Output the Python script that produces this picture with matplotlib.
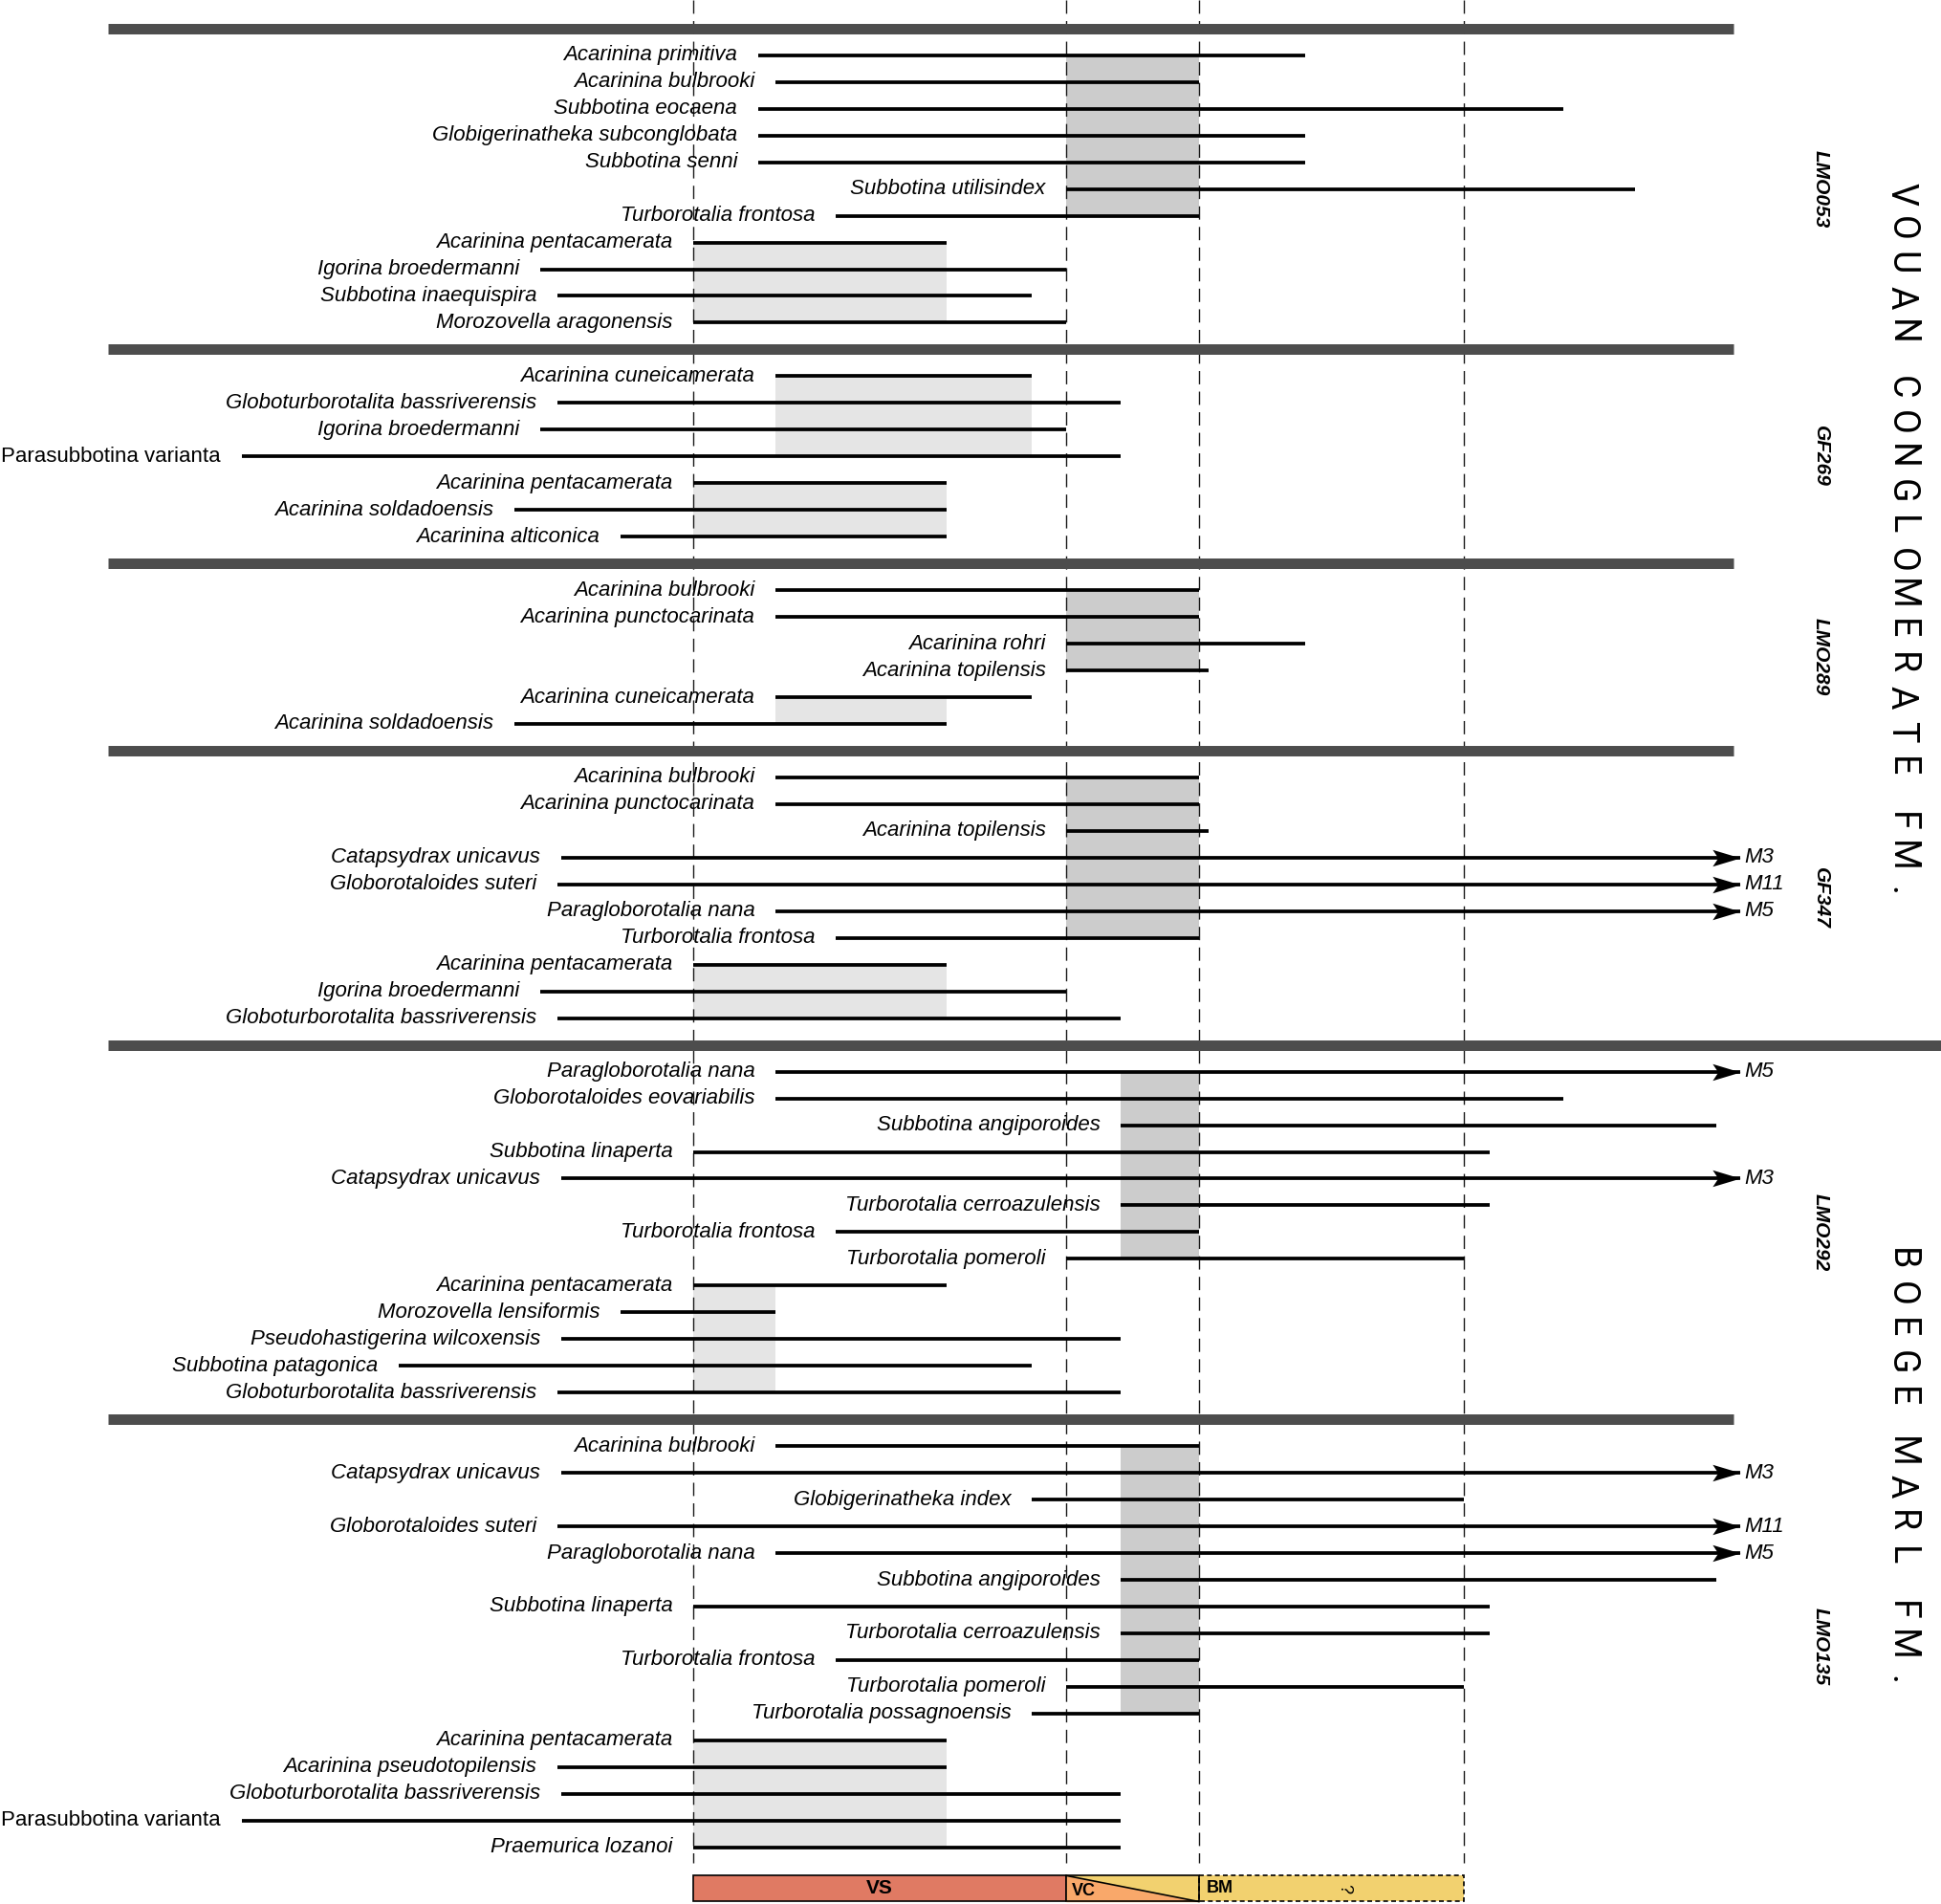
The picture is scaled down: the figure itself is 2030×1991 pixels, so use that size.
import matplotlib
matplotlib.use('Agg')
import matplotlib.pyplot as plt
from matplotlib.path import Path
import numpy as np

plt.rcParams['font.family'] = ['Liberation Sans', 'DejaVu Sans']

# ============================================================
# DATA  (x in chart units, rows counted from the top)
# ============================================================
zone_edges = [560, 861, 968, 1182]
zone_names = ["VS", "VC", "BM"]

samples = ["LMO053", "GF269", "LMO289", "GF347", "LMO292", "LMO135"]

lmo053_taxa = ["Acarinina primitiva", "Acarinina bulbrooki", "Subbotina eocaena",
               "Globigerinatheka subconglobata", "Subbotina senni", "Subbotina utilisindex",
               "Turborotalia frontosa", "Acarinina pentacamerata", "Igorina broedermanni",
               "Subbotina inaequispira", "Morozovella aragonensis"]
lmo053_start = [612, 626, 612, 612, 612, 861, 675, 560, 436, 450, 560]
lmo053_end = [1054, 968, 1262, 1054, 1054, 1320, 968, 764, 861, 833, 861]
lmo053_arrow = [""] * 11

gf269_taxa = ["Acarinina cuneicamerata", "Globoturborotalita bassriverensis",
              "Igorina broedermanni", "Parasubbotina varianta", "Acarinina pentacamerata",
              "Acarinina soldadoensis", "Acarinina alticonica"]
gf269_start = [626, 450, 436, 195, 560, 415, 501]
gf269_end = [833, 905, 861, 905, 764, 764, 764]
gf269_arrow = [""] * 7

lmo289_taxa = ["Acarinina bulbrooki", "Acarinina punctocarinata", "Acarinina rohri",
               "Acarinina topilensis", "Acarinina cuneicamerata", "Acarinina soldadoensis"]
lmo289_start = [626, 626, 861, 861, 626, 415]
lmo289_end = [968, 968, 1054, 976, 833, 764]
lmo289_arrow = [""] * 6

gf347_taxa = ["Acarinina bulbrooki", "Acarinina punctocarinata", "Acarinina topilensis",
              "Catapsydrax unicavus", "Globorotaloides suteri", "Paragloborotalia nana",
              "Turborotalia frontosa", "Acarinina pentacamerata", "Igorina broedermanni",
              "Globoturborotalita bassriverensis"]
gf347_start = [626, 626, 861, 453, 450, 626, 675, 560, 436, 450]
gf347_end = [968, 968, 976, 1405, 1405, 1405, 968, 764, 861, 905]
gf347_arrow = ["", "", "", "M3", "M11", "M5", "", "", "", ""]

lmo292_taxa = ["Paragloborotalia nana", "Globorotaloides eovariabilis",
               "Subbotina angiporoides", "Subbotina linaperta", "Catapsydrax unicavus",
               "Turborotalia cerroazulensis", "Turborotalia frontosa", "Turborotalia pomeroli",
               "Acarinina pentacamerata", "Morozovella lensiformis",
               "Pseudohastigerina wilcoxensis", "Subbotina patagonica",
               "Globoturborotalita bassriverensis"]
lmo292_start = [626, 626, 905, 560, 453, 905, 675, 861, 560, 501, 453, 322, 450]
lmo292_end = [1405, 1262, 1386, 1203, 1405, 1203, 968, 1182, 764, 626, 905, 833, 905]
lmo292_arrow = ["M5", "", "", "", "M3", "", "", "", "", "", "", "", ""]

lmo135_taxa = ["Acarinina bulbrooki", "Catapsydrax unicavus", "Globigerinatheka index",
               "Globorotaloides suteri", "Paragloborotalia nana", "Subbotina angiporoides",
               "Subbotina linaperta", "Turborotalia cerroazulensis", "Turborotalia frontosa",
               "Turborotalia pomeroli", "Turborotalia possagnoensis", "Acarinina pentacamerata",
               "Acarinina pseudotopilensis", "Globoturborotalita bassriverensis",
               "Parasubbotina varianta", "Praemurica lozanoi"]
lmo135_start = [626, 453, 833, 450, 626, 905, 560, 905, 675, 861, 833, 560, 450, 453, 195, 560]
lmo135_end = [968, 1405, 1182, 1405, 1405, 1386, 1203, 1203, 968, 1182, 968, 764, 764, 905, 905, 905]
lmo135_arrow = ["", "M3", "", "M11", "M5", "", "", "", "", "", "", "", "", "", "", ""]

# shaded ranges: sample index, x0, x1, first row, last row, dark?
box_sample = [0, 0, 1, 1, 2, 2, 3, 3, 4, 4, 5, 5]
box_x0 = [861, 560, 626, 560, 861, 626, 861, 560, 905, 560, 905, 560]
box_x1 = [968, 764, 833, 764, 968, 764, 968, 764, 968, 626, 968, 764]
box_row0 = [0, 7, 0, 4, 0, 4, 0, 7, 0, 8, 0, 11]
box_row1 = [6, 10, 3, 6, 3, 5, 6, 9, 7, 12, 10, 15]
box_dark = [1, 0, 0, 0, 1, 0, 1, 0, 1, 0, 1, 0]

upright_taxa = ["Parasubbotina varianta"]

formations = ["VOUAN CONGLOMERATE FM.", "BOEGE MARL FM."]
formation_first_row = [6.2, 46.0]

all_taxa = [lmo053_taxa, gf269_taxa, lmo289_taxa, gf347_taxa, lmo292_taxa, lmo135_taxa]
all_start = [lmo053_start, gf269_start, lmo289_start, gf347_start, lmo292_start, lmo135_start]
all_end = [lmo053_end, gf269_end, lmo289_end, gf347_end, lmo292_end, lmo135_end]
all_arrow = [lmo053_arrow, gf269_arrow, lmo289_arrow, gf347_arrow, lmo292_arrow, lmo135_arrow]

# ============================================================
# PLOT
# ============================================================
fig = plt.figure(figsize=(20.31, 19.91), dpi=100)
ax = fig.add_axes([0, 0, 1, 1])
ax.set_xlim(0, 1568)
ax.set_ylim(70.12, -1.065)
ax.axis('off')

# concave arrow head, tip at origin
arrow_head = Path([(0, 0), (-1, 0.3), (-0.8, 0), (-1, -0.3), (0, 0)],
                  [Path.MOVETO, Path.LINETO, Path.LINETO, Path.LINETO, Path.CLOSEPOLY])

first_rows = []
slot = 0
for i, sample in enumerate(samples):
    right = 1568 if i == 4 else 1400
    ax.hlines(slot, 87, right, color='#4d4d4d', lw=7.9, zorder=4)
    rows = slot + 1 + np.arange(len(all_taxa[i]))
    first_rows.append(rows[0])

    for name, x0, x1, tag, y in zip(all_taxa[i], all_start[i], all_end[i], all_arrow[i], rows):
        ax.hlines(y, x0, x1, color='black', lw=2.7, zorder=3)
        style = 'normal' if name in upright_taxa else 'italic'
        ax.annotate(name, (x0, y), xytext=(-15.5, 0), textcoords='offset points',
                    ha='right', va='center', fontsize=16, style=style)
        if tag:
            ax.plot(x1, y, marker=arrow_head, ms=42, color='black', mew=0, zorder=3)
            ax.annotate(tag, (x1, y), xytext=(3, 0), textcoords='offset points',
                        ha='left', va='center', fontsize=16, style='italic')

    ax.text(1470, (rows[0] + rows[-1]) / 2, sample, rotation=270, ha='center', va='center',
            fontsize=15, fontweight='bold', style='italic')
    slot = rows[-1] + 1

for s, x0, x1, r0, r1, dark in zip(box_sample, box_x0, box_x1, box_row0, box_row1, box_dark):
    top = first_rows[s] + r0
    ax.bar(x0, r1 - r0, width=x1 - x0, bottom=top, align='edge',
           color='#cccccc' if dark else '#e5e5e5', zorder=1)

# zone boundaries
for x in zone_edges:
    ax.plot([x, x], [-1.07, 68.6], color='#1a1a1a', lw=1.0, dashes=(10, 5.5), zorder=2)

# formation names, spaced letter by letter down the right side
pitch, word_gap = 1.288, 0.79
for label, pos in zip(formations, formation_first_row):
    for word in label.split():
        for ch in word:
            ax.text(1535, pos, ch, rotation=270, ha='center', va='center', fontsize=27,
                    family=['Roboto', 'Liberation Sans'], color='black')
            pos += pitch
        pos += word_gap

# zone bar at the bottom
bar_top, bar_h = 69.06, 0.97
ax.bar(zone_edges[0], bar_h, width=zone_edges[1] - zone_edges[0], bottom=bar_top, align='edge',
       color='#e07a63', edgecolor='black', lw=1.2, zorder=2)
ax.fill([zone_edges[1], zone_edges[1], zone_edges[2]],
        [bar_top, bar_top + bar_h, bar_top + bar_h], color='#f9a86a', zorder=2)
ax.fill([zone_edges[1], zone_edges[2], zone_edges[2]],
        [bar_top, bar_top, bar_top + bar_h], color='#f2d16f', zorder=2)
ax.plot([zone_edges[1], zone_edges[2]], [bar_top, bar_top + bar_h], color='black', lw=1.2, zorder=3)
ax.bar(zone_edges[1], bar_h, width=zone_edges[2] - zone_edges[1], bottom=bar_top, align='edge',
       fill=False, edgecolor='black', lw=1.2, zorder=3)
ax.bar(zone_edges[2], bar_h, width=zone_edges[3] - zone_edges[2], bottom=bar_top, align='edge',
       color='#f2d16f', edgecolor='black', lw=1.2, linestyle=(0, (3, 2)), zorder=2)

mid = bar_top + bar_h / 2
ax.text((zone_edges[0] + zone_edges[1]) / 2, mid, zone_names[0], ha='center', va='center',
        fontsize=15, fontweight='bold')
ax.text(zone_edges[1] + 4, mid + 0.08, zone_names[1], ha='left', va='center', fontsize=13,
        fontweight='bold')
ax.text(zone_edges[2] + 6, mid, zone_names[2], ha='left', va='center', fontsize=13, fontweight='bold')
ax.text(1085, mid, "?", rotation=270, ha='center', va='center', fontsize=13)

fig.savefig('out.png', dpi=100)
